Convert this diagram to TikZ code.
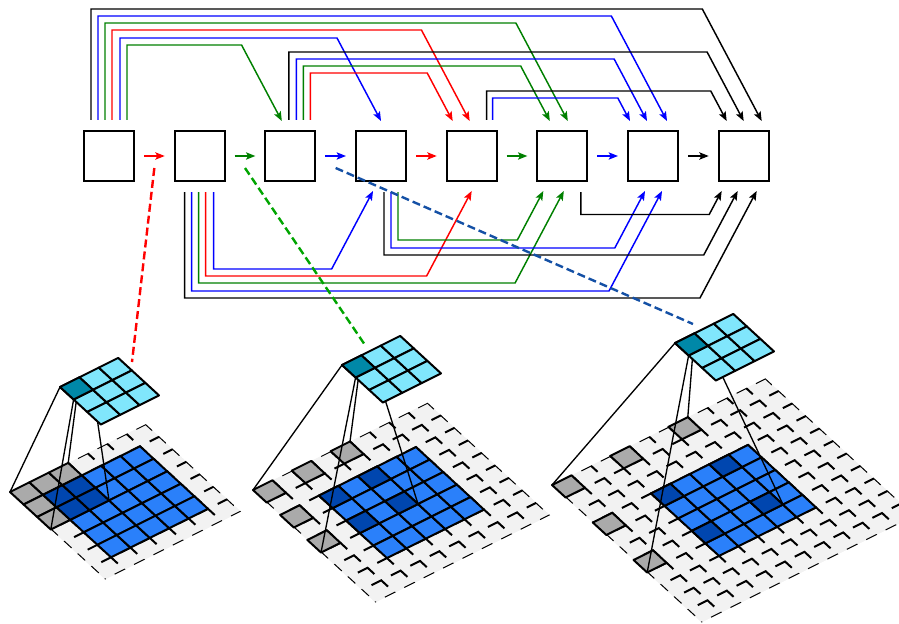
\documentclass[tikz,border=0pt]{standalone}
\usepackage{tikz}
\usetikzlibrary{arrows.meta}
\usetikzlibrary{calc}
\usetikzlibrary{positioning}
\definecolor{cellblue}{RGB}{42,128,250}
\definecolor{kernblue}{RGB}{0,70,175}
\definecolor{outcyan}{RGB}{128,230,252}
\definecolor{outteal}{RGB}{0,136,168}
\definecolor{padgray}{RGB}{242,242,242}
\definecolor{kerngray}{RGB}{170,170,170}
\definecolor{convblue}{RGB}{20,80,165}
\definecolor{convgreen}{RGB}{0,165,0}
\definecolor{linkgreen}{RGB}{0,128,0}
\tikzset{layer/.style={draw,line width=1.4pt,minimum size=37.5pt,inner sep=0pt,outer sep=0pt}}
\tikzset{link/.style={line width=1.1pt,-{Stealth[length=7pt,width=5.5pt,inset=1.5pt]}}}
\tikzset{conv/.style={line width=1.8pt,dash pattern=on 6pt off 3pt}}
\tikzset{padmark/.style={draw,line width=1.5pt,line join=miter}}
\tikzset{cell/.style={draw,line width=1.5pt,line join=round}}
\tikzset{proj/.style={line width=1pt}}

\begin{document}
\begin{tikzpicture}[x=0.75pt,y=-0.75pt]
    \useasboundingbox (0,0) rectangle (899,624);
    % layers
    \node[layer] (b1) at (109,156) {};
    \node[layer,right=30.5pt of b1] (b2) {};
    \node[layer,right=30.5pt of b2] (b3) {};
    \node[layer,right=30.5pt of b3] (b4) {};
    \node[layer,right=30.5pt of b4] (b5) {};
    \node[layer,right=30.5pt of b5] (b6) {};
    \node[layer,right=30.5pt of b6] (b7) {};
    \node[layer,right=30.5pt of b7] (b8) {};
    \begin{scope}[shorten <=7.5pt,shorten >=7.5pt]
        \draw[link,red] (b1) -- (b2);
        \draw[link,linkgreen] (b2) -- (b3);
        \draw[link,blue] (b3) -- (b4);
        \draw[link,red] (b4) -- (b5);
        \draw[link,linkgreen] (b5) -- (b6);
        \draw[link,blue] (b6) -- (b7);
        \draw[link,black] (b7) -- (b8);
    \end{scope}
    % skip links: colour, from, offset, to, offset, rise
    \def\overlink#1#2#3#4#5#6{
        \draw[link,#1] ($(#2.north)+(#3,-11)$) |- ($(#4.north)+({#5-0.53*#6},{-10-#6})$) -- ($(#4.north)+(#5,-10)$);
    }
    \def\underlink#1#2#3#4#5#6{
        \draw[link,#1] ($(#2.south)+(#3,11)$) |- ($(#4.south)+({#5-0.53*#6},{10+#6})$) -- ($(#4.south)+(#5,10)$);
    }
    \overlink{black}{b1}{-18}{b8}{18}{112}
    \overlink{blue}{b1}{-11}{b7}{14}{105}
    \overlink{linkgreen}{b1}{-4}{b6}{5.5}{98}
    \overlink{red}{b1}{3}{b5}{-2}{91}
    \overlink{blue}{b1}{11}{b4}{0}{83}
    \overlink{linkgreen}{b1}{18}{b3}{-8.5}{76}
    \overlink{black}{b3}{-1.5}{b8}{0}{69}
    \overlink{blue}{b3}{6}{b7}{-6}{62}
    \overlink{linkgreen}{b3}{13}{b6}{-12.5}{55}
    \overlink{red}{b3}{20}{b5}{-19}{48}
    \overlink{black}{b5}{15}{b8}{-17}{30}
    \overlink{blue}{b5}{21}{b7}{-23}{23}
    \underlink{black}{b2}{-15}{b8}{13}{107}
    \underlink{blue}{b2}{-8}{b7}{9}{100}
    \underlink{linkgreen}{b2}{-1}{b6}{1.5}{92}
    \underlink{red}{b2}{6}{b5}{0}{85}
    \underlink{blue}{b2}{14}{b4}{-8}{78}
    \underlink{black}{b4}{3}{b8}{-6}{64}
    \underlink{blue}{b4}{10}{b7}{-8}{57}
    \underlink{linkgreen}{b4}{17}{b6}{-19}{49}
    \underlink{black}{b6}{18.5}{b8}{-22}{23.5}
    % dilated convolutions: name, dilation, input corner, output corner
    \def\convgrid#1#2#3#4{
        \pgfmathtruncatemacro{\gridsize}{5+2*#2}
        \pgfmathtruncatemacro{\kernext}{2*#2+1}
        \begin{scope}[shift={#3},x={(14.55pt,7.275pt)},y={(10.2pt,-9.375pt)}]
            \begin{scope}
                \clip (0,0) -- (\gridsize,0) -- (\gridsize,\gridsize) -- (0,\gridsize) -- cycle;
                \fill[padgray] (0,0) -- (\gridsize,0) -- (\gridsize,\gridsize) -- (0,\gridsize) -- cycle;
                \foreach \a in {0,...,\gridsize} \foreach \b in {0,...,\gridsize}
                    \draw[padmark] (\a-0.5,\b) -- (\a,\b) -- (\a,\b+0.5);
            \end{scope}
            \foreach \a in {0,...,4} \foreach \b in {0,...,4}
                \draw[cell,fill=cellblue] (#2+\a,#2+\b) -- ++(1,0) -- ++(0,1) -- ++(-1,0) -- cycle;
            \foreach \i in {0,1,2} \foreach \j in {0,1,2} {
                \pgfmathtruncatemacro{\inpad}{(\i==0)||(\j==0)}
                \ifnum\inpad=1 \def\kerncol{kerngray}\else\def\kerncol{kernblue}\fi
                \draw[cell,fill=\kerncol] (\i*#2,\j*#2) -- ++(1,0) -- ++(0,1) -- ++(-1,0) -- cycle;
            }
            \coordinate (#1k1) at (0,0);
            \coordinate (#1k2) at (\kernext,0);
            \coordinate (#1k3) at (0,\kernext);
            \coordinate (#1k4) at (\kernext,\kernext);
        \end{scope}
        \begin{scope}[shift={#4},x={(14.55pt,7.275pt)},y={(10.2pt,-9.375pt)}]
            \coordinate (#1o1) at (0,0);
            \coordinate (#1o2) at (1,0);
            \coordinate (#1o3) at (0,1);
            \coordinate (#1o4) at (1,1);
            \foreach \m in {1,...,4}
                \draw[proj] (#1k\m) -- (#1o\m);
            \foreach \a in {0,1,2} \foreach \b in {0,1,2}
                \draw[cell,fill=outcyan] (\a,\b) -- ++(1,0) -- ++(0,1) -- ++(-1,0) -- cycle;
            \draw[cell,fill=outteal] (0,0) -- ++(1,0) -- ++(0,1) -- ++(-1,0) -- cycle;
        \end{scope}
    }
    \convgrid{ga}{1}{(10,492)}{(60,387)}
    \convgrid{gb}{2}{(253,490)}{(342,365)}
    \convgrid{gc}{3}{(552,485)}{(675,343)}
    % operations to their convolutions
    \coordinate (c1) at ($(b1.east)!0.5!(b2.west)+(0,12)$);
    \coordinate (c2) at ($(b2.east)!0.5!(b3.west)+(0,12)$);
    \coordinate (c3) at ($(b3.east)!0.5!(b4.west)+(0,12)$);
    \coordinate (ga end) at (132,362);
    \coordinate (gb end) at (365,345);
    \coordinate (gc end) at (693,324);
    \draw[conv,red] (c1) -- (ga end);
    \draw[conv,convgreen] (c2) -- (gb end);
    \draw[conv,convblue] (c3) -- (gc end);
\end{tikzpicture}
\end{document}
